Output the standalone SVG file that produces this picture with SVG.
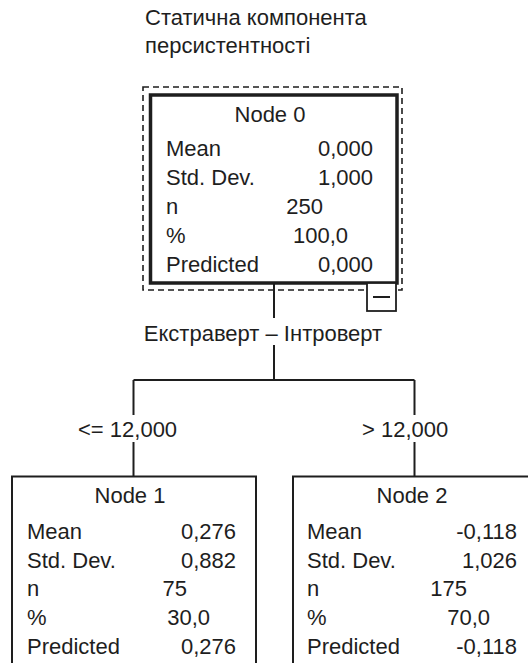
<svg xmlns="http://www.w3.org/2000/svg" width="528" height="663" viewBox="0 0 528 663">
<style>
text{font-family:"Liberation Sans",Arial,sans-serif;font-size:22px;fill:#1e1e1e}
.e{text-anchor:end}
.m{text-anchor:middle}
.ln{stroke:#1e1e1e;stroke-width:2;fill:none}
.box{stroke:#1e1e1e;stroke-width:2;fill:#fff}
</style>
<rect width="528" height="663" fill="#fff"/>
<g id="title">
<text x="145" y="25">Статична компонента</text>
<text x="145" y="53">персистентності</text>
</g>
<g id="connectors">
<path class="ln" d="M274 283V318M274 345V380M133.5 380H414.5M133.5 380V415M133.5 442V477M414.5 380V415M414.5 442V477"/>
<text class="m" x="263" y="341">Екстраверт – Інтроверт</text>
<text x="78" y="437">&lt;= 12,000</text>
<text x="362" y="437">&gt; 12,000</text>
</g>
<g id="node0">
<rect x="143" y="87" width="259" height="203" fill="none" stroke="#1e1e1e" stroke-width="1.6" stroke-dasharray="6 4"/>
<rect x="150.5" y="95" width="246.5" height="188" fill="#fff" stroke="#1e1e1e" stroke-width="3.5"/>
<rect x="367" y="283" width="29" height="28" fill="#fff" stroke="#1e1e1e" stroke-width="1.8"/>
<line x1="373" y1="297" x2="390" y2="297" stroke="#1e1e1e" stroke-width="2"/>
<text class="m" x="270" y="122">Node 0</text>
<text x="166" y="156">Mean</text><text class="e" x="373" y="156">0,000</text>
<text x="166" y="185">Std. Dev.</text><text class="e" x="373" y="185">1,000</text>
<text x="166" y="214">n</text><text class="e" x="323" y="214">250</text>
<text x="166" y="243">%</text><text class="e" x="348" y="243">100,0</text>
<text x="166" y="272">Predicted</text><text class="e" x="373" y="272">0,000</text>
</g>
<g id="node1">
<rect class="box" x="12" y="476.5" width="244" height="200"/>
<text class="m" x="130" y="503">Node 1</text>
<text x="27" y="539">Mean</text><text class="e" x="236" y="539">0,276</text>
<text x="27" y="568">Std. Dev.</text><text class="e" x="236" y="568">0,882</text>
<text x="27" y="596">n</text><text class="e" x="187" y="596">75</text>
<text x="27" y="625">%</text><text class="e" x="210" y="625">30,0</text>
<text x="27" y="654">Predicted</text><text class="e" x="236" y="654">0,276</text>
</g>
<g id="node2">
<rect class="box" x="293" y="476.5" width="245" height="200"/>
<text class="m" x="412" y="503">Node 2</text>
<text x="307" y="539">Mean</text><text class="e" x="517" y="539">-0,118</text>
<text x="307" y="568">Std. Dev.</text><text class="e" x="517" y="568">1,026</text>
<text x="307" y="596">n</text><text class="e" x="467" y="596">175</text>
<text x="307" y="625">%</text><text class="e" x="490" y="625">70,0</text>
<text x="307" y="654">Predicted</text><text class="e" x="517" y="654">-0,118</text>
</g>
</svg>
